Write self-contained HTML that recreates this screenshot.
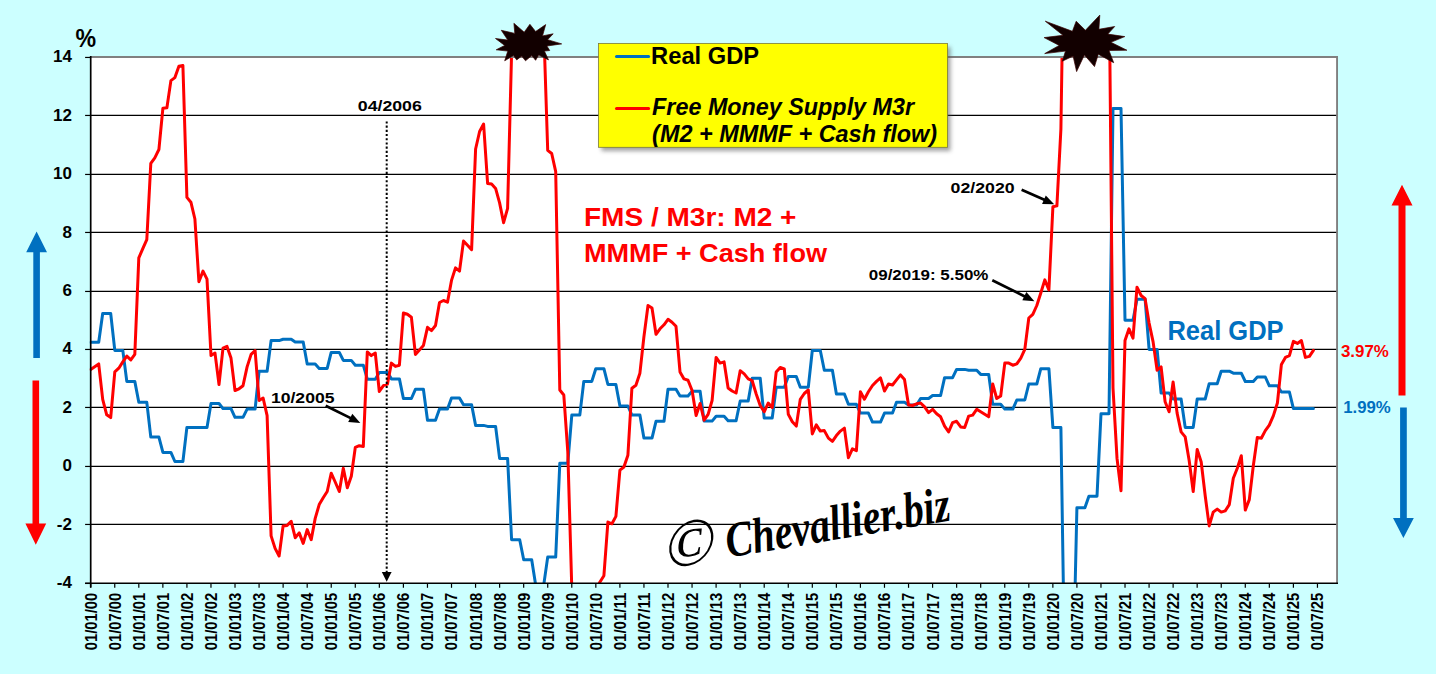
<!DOCTYPE html>
<html lang="en"><head><meta charset="utf-8"><title>Real GDP vs Free Money Supply M3r</title>
<style>html,body{margin:0;padding:0;background:#ccffff;overflow:hidden}svg{display:block}text{font-family:"Liberation Sans",sans-serif;font-weight:bold}.ax{font-size:15.7px;fill:#000}.ay{font-size:17px;fill:#000}.an{font-size:15.2px;fill:#000}</style></head><body>
<svg width="1436" height="674" viewBox="0 0 1436 674">
<defs><clipPath id="pc"><rect x="89.7" y="57.5" width="1247.3" height="525.7"/></clipPath>
<filter id="sh" x="-5%" y="-10%" width="115%" height="130%"><feGaussianBlur stdDeviation="2.2"/></filter></defs>
<rect width="1436" height="674" fill="#ccffff"/>
<rect x="90.7" y="57.5" width="1246.3" height="525.7" fill="#fff"/>
<line x1="90.7" x2="1337.0" y1="524.45" y2="524.45" stroke="#000" stroke-width="1.2"/>
<line x1="90.7" x2="1337.0" y1="466.45" y2="466.45" stroke="#000" stroke-width="1.2"/>
<line x1="90.7" x2="1337.0" y1="407.45" y2="407.45" stroke="#000" stroke-width="1.2"/>
<line x1="90.7" x2="1337.0" y1="349.45" y2="349.45" stroke="#000" stroke-width="1.2"/>
<line x1="90.7" x2="1337.0" y1="291.45" y2="291.45" stroke="#000" stroke-width="1.2"/>
<line x1="90.7" x2="1337.0" y1="232.45" y2="232.45" stroke="#000" stroke-width="1.2"/>
<line x1="90.7" x2="1337.0" y1="174.45" y2="174.45" stroke="#000" stroke-width="1.2"/>
<line x1="90.7" x2="1337.0" y1="115.45" y2="115.45" stroke="#000" stroke-width="1.2"/>
<g clip-path="url(#pc)" fill="none" stroke-linejoin="round" stroke-linecap="round">
<polyline points="90.7,342.3 98.7,342.3 102.7,313.5 110.7,313.5 114.8,350.4 122.8,350.4 126.8,381.4 134.8,381.4 138.8,402.3 146.8,402.3 150.8,437.1 158.9,437.1 162.9,452.4 170.9,452.4 174.9,461.5 182.9,461.5 186.9,427.4 207.0,427.4 211.0,403.5 219.0,403.5 223.0,408.6 231.0,408.6 235.0,417.3 243.0,417.3 247.1,409.1 255.1,409.1 259.1,371.2 267.1,371.2 271.1,340.6 279.1,340.6 283.1,339.3 291.2,339.3 295.2,342.1 303.2,342.1 307.2,363.9 315.2,363.9 319.2,368.4 327.2,368.4 331.2,352.4 339.3,352.4 343.3,360.4 351.3,360.4 355.3,365.2 363.3,365.2 367.3,379.2 375.3,379.2 379.3,372.4 387.4,372.4 391.4,378.9 399.4,378.9 403.4,398.5 411.4,398.5 415.4,389.3 423.4,389.3 427.5,420.3 435.5,420.3 439.5,409.1 447.5,409.1 451.5,398.0 459.5,398.0 463.5,404.8 471.6,404.8 475.6,425.4 483.6,425.4 487.6,426.4 495.6,426.4 499.6,458.4 507.6,458.4 511.6,539.7 519.7,539.7 523.7,559.7 531.7,559.7 535.7,585.2 543.7,585.2 547.7,557.1 555.7,557.1 559.8,463.2 567.8,463.2 571.8,415.1 579.8,415.1 583.8,381.4 591.8,381.4 595.8,368.7 603.9,368.7 607.9,384.5 615.9,384.5 619.9,406.0 627.9,406.0 631.9,415.1 639.9,415.1 643.9,438.1 652.0,438.1 656.0,421.3 664.0,421.3 668.0,389.3 676.0,389.3 680.0,396.0 688.0,396.0 692.1,391.3 700.1,391.3 704.1,421.1 712.1,421.1 716.1,416.3 724.1,416.3 728.1,420.8 736.1,420.8 740.2,401.0 748.2,401.0 752.2,378.2 760.2,378.2 764.2,418.1 772.2,418.1 776.2,387.2 784.3,387.2 788.3,376.4 796.3,376.4 800.3,387.2 808.3,387.2 812.3,350.5 820.3,350.5 824.3,370.2 832.4,370.2 836.4,394.0 844.4,394.0 848.4,404.3 856.4,404.3 860.4,413.1 868.4,413.1 872.5,422.1 880.5,422.1 884.5,413.1 892.5,413.1 896.5,402.3 904.5,402.3 908.5,405.0 916.6,405.0 920.6,398.5 928.6,398.5 932.6,395.5 940.6,395.5 944.6,377.7 952.6,377.7 956.6,369.4 964.7,369.4 968.7,370.2 976.7,370.2 980.7,374.4 988.7,374.4 992.7,404.3 1000.7,404.3 1004.8,409.1 1012.8,409.1 1016.8,400.0 1024.8,400.0 1028.8,384.0 1036.8,384.0 1040.8,368.7 1048.9,368.7 1052.9,427.6 1060.9,427.6 1064.9,685.1 1072.9,685.1 1076.9,507.8 1084.9,507.8 1088.9,496.3 1097.0,496.3 1101.0,413.8 1109.0,413.8 1113.0,108.4 1121.0,108.4 1125.0,320.3 1133.0,320.3 1137.0,299.2 1145.1,299.2 1149.1,349.4 1157.1,349.4 1161.1,393.0 1169.1,393.0 1173.1,399.0 1181.1,399.0 1185.2,427.4 1193.2,427.4 1197.2,399.0 1205.2,399.0 1209.2,383.7 1217.2,383.7 1221.2,371.2 1229.3,371.2 1233.3,373.2 1241.3,373.2 1245.3,381.5 1253.3,381.5 1257.3,377.0 1265.3,377.0 1269.3,385.8 1277.4,385.8 1281.4,392.0 1289.4,392.0 1293.4,408.6 1313.4,408.6" stroke="#0070c0" stroke-width="3"/>
<polyline points="90.7,369.4 98.7,363.9 102.7,399.3 106.7,414.8 110.7,417.6 114.8,371.9 118.8,368.2 122.8,361.9 126.8,356.1 130.8,359.9 134.8,354.4 138.8,257.9 142.8,248.6 146.8,239.6 150.8,163.3 154.8,157.8 158.9,149.5 162.9,108.2 166.9,107.7 170.9,80.6 174.9,77.6 178.9,66.3 182.9,65.5 186.9,197.4 190.9,202.2 194.9,219.0 198.9,281.7 203.0,271.1 207.0,279.2 211.0,355.6 215.0,353.1 219.0,384.5 223.0,348.1 227.0,346.4 231.0,358.1 235.0,390.5 239.0,388.8 243.0,385.7 247.1,366.9 251.1,354.4 255.1,350.6 259.1,400.5 263.1,398.0 267.1,415.6 271.1,535.9 275.1,548.4 279.1,556.0 283.1,525.9 287.1,525.4 291.2,521.4 295.2,537.7 299.2,532.9 303.2,543.4 307.2,529.6 311.2,539.7 315.2,518.4 319.2,504.6 323.2,497.8 327.2,491.5 331.2,473.2 335.2,482.0 339.3,491.5 343.3,468.2 347.3,487.8 351.3,476.2 355.3,447.4 359.3,445.7 363.3,446.4 367.3,351.9 371.3,355.6 375.3,353.1 379.3,391.5 383.4,385.7 387.4,384.2 391.4,363.1 395.4,366.4 399.4,365.2 403.4,313.0 407.4,314.3 411.4,317.3 415.4,354.4 419.4,349.9 423.4,345.6 427.5,327.3 431.5,330.6 435.5,325.5 439.5,302.5 443.5,300.5 447.5,302.2 451.5,280.4 455.5,267.9 459.5,271.1 463.5,241.1 467.5,245.3 471.6,249.6 475.6,149.0 479.6,131.5 483.6,124.0 487.6,183.4 491.6,184.1 495.6,188.4 499.6,202.9 503.6,222.7 507.6,208.4 511.6,52.5 515.7,-25.2 539.7,-25.2 543.7,26.7 547.7,150.3 551.7,153.5 555.7,171.6 559.8,390.0 563.8,395.0 567.8,451.9 571.8,588.6 595.8,591.5 599.8,582.2 603.9,575.7 607.9,522.0 611.9,523.8 615.9,516.4 619.9,470.2 623.9,467.0 627.9,455.2 631.9,388.2 635.9,385.2 639.9,373.2 643.9,336.8 648.0,305.5 652.0,308.0 656.0,334.3 660.0,328.8 664.0,324.8 668.0,319.3 672.0,322.3 676.0,326.3 680.0,371.9 684.0,378.9 688.0,380.2 692.1,390.5 696.1,415.6 700.1,403.5 704.1,420.1 708.1,414.3 712.1,400.5 716.1,357.4 720.1,363.1 724.1,361.9 728.1,388.0 732.1,391.0 736.1,393.0 740.2,370.7 744.2,373.9 748.2,378.9 752.2,380.7 756.2,394.0 760.2,405.5 764.2,411.8 768.2,403.0 772.2,407.6 776.2,371.9 780.2,367.4 784.3,368.9 788.3,414.3 792.3,421.8 796.3,426.1 800.3,399.3 804.3,393.5 808.3,390.0 812.3,433.9 816.3,424.9 820.3,431.1 824.3,430.6 828.4,438.1 832.4,441.4 836.4,435.6 840.4,431.1 844.4,428.1 848.4,457.7 852.4,448.9 856.4,450.7 860.4,391.8 864.4,399.3 868.4,391.8 872.5,385.5 876.5,381.4 880.5,377.9 884.5,391.0 888.5,384.0 892.5,385.0 896.5,379.9 900.5,374.9 904.5,379.4 908.5,405.0 912.5,405.5 916.6,403.8 920.6,403.0 924.6,406.8 928.6,412.6 932.6,409.3 936.6,413.8 940.6,416.8 944.6,426.1 948.6,431.9 952.6,422.6 956.6,421.3 960.7,426.9 964.7,427.6 968.7,416.1 972.7,415.1 976.7,409.3 980.7,411.8 984.7,414.3 988.7,416.8 992.7,384.0 996.7,398.5 1000.7,396.0 1004.8,363.1 1008.8,363.1 1012.8,365.2 1016.8,363.9 1020.8,358.1 1024.8,349.4 1028.8,318.0 1032.8,314.3 1036.8,305.5 1040.8,293.0 1044.8,279.9 1048.9,289.9 1052.9,206.7 1056.9,205.9 1060.9,129.2 1064.9,-125.5 1105.0,-125.5 1109.0,-35.2 1113.0,388.0 1117.0,458.2 1121.0,490.8 1125.0,340.6 1129.0,328.8 1133.0,338.1 1137.0,287.2 1141.1,295.5 1145.1,298.7 1149.1,323.1 1153.1,341.9 1157.1,370.2 1161.1,366.9 1165.1,401.8 1169.1,411.8 1173.1,382.0 1177.1,413.1 1181.1,431.9 1185.2,436.9 1189.2,460.7 1193.2,491.6 1197.2,449.4 1201.2,462.0 1205.2,495.8 1209.2,525.9 1213.2,512.1 1217.2,509.1 1221.2,512.1 1225.2,510.9 1229.3,504.6 1233.3,478.3 1237.3,468.2 1241.3,455.7 1245.3,510.1 1249.3,499.6 1253.3,465.7 1257.3,437.4 1261.3,438.2 1265.3,430.6 1269.3,425.1 1273.4,415.6 1277.4,403.0 1281.4,364.4 1285.4,357.4 1289.4,355.7 1293.4,341.4 1297.4,343.4 1301.4,340.6 1305.4,357.4 1309.4,356.4 1313.4,350.4" stroke="#ff0000" stroke-width="3"/>
</g>
<path d="M90.70 57.05 H1337.05 V583.2" fill="none" stroke="#808080" stroke-width="1.9"/>
<path d="M90.70 56.1 V587.6" fill="none" stroke="#000" stroke-width="1.7"/>
<path d="M85.1 583.20 H1338.0" fill="none" stroke="#000" stroke-width="1.5"/>
<line x1="85.1" x2="90.7" y1="583.45" y2="583.45" stroke="#000" stroke-width="1.2"/>
<text class="ay" x="71.9" y="588.0" text-anchor="end">-4</text>
<line x1="85.1" x2="90.7" y1="524.45" y2="524.45" stroke="#000" stroke-width="1.2"/>
<text class="ay" x="71.9" y="529.6" text-anchor="end">-2</text>
<line x1="85.1" x2="90.7" y1="466.45" y2="466.45" stroke="#000" stroke-width="1.2"/>
<text class="ay" x="71.9" y="471.2" text-anchor="end">0</text>
<line x1="85.1" x2="90.7" y1="407.45" y2="407.45" stroke="#000" stroke-width="1.2"/>
<text class="ay" x="71.9" y="412.8" text-anchor="end">2</text>
<line x1="85.1" x2="90.7" y1="349.45" y2="349.45" stroke="#000" stroke-width="1.2"/>
<text class="ay" x="71.9" y="354.4" text-anchor="end">4</text>
<line x1="85.1" x2="90.7" y1="291.45" y2="291.45" stroke="#000" stroke-width="1.2"/>
<text class="ay" x="71.9" y="295.9" text-anchor="end">6</text>
<line x1="85.1" x2="90.7" y1="232.45" y2="232.45" stroke="#000" stroke-width="1.2"/>
<text class="ay" x="71.9" y="237.5" text-anchor="end">8</text>
<line x1="85.1" x2="90.7" y1="174.45" y2="174.45" stroke="#000" stroke-width="1.2"/>
<text class="ay" x="71.9" y="179.1" text-anchor="end">10</text>
<line x1="85.1" x2="90.7" y1="115.45" y2="115.45" stroke="#000" stroke-width="1.2"/>
<text class="ay" x="71.9" y="120.7" text-anchor="end">12</text>
<line x1="85.1" x2="90.7" y1="57.45" y2="57.45" stroke="#000" stroke-width="1.2"/>
<text class="ay" x="71.9" y="62.3" text-anchor="end">14</text>
<line x1="90.70" x2="90.70" y1="583.2" y2="587.8" stroke="#000" stroke-width="1.2"/>
<text class="ax" transform="translate(96.6,650.3) rotate(-90)" textLength="57.6" lengthAdjust="spacingAndGlyphs">01/01/00</text>
<line x1="114.75" x2="114.75" y1="583.2" y2="587.8" stroke="#000" stroke-width="1.2"/>
<text class="ax" transform="translate(120.7,650.3) rotate(-90)" textLength="57.6" lengthAdjust="spacingAndGlyphs">01/07/00</text>
<line x1="138.81" x2="138.81" y1="583.2" y2="587.8" stroke="#000" stroke-width="1.2"/>
<text class="ax" transform="translate(144.7,650.3) rotate(-90)" textLength="57.6" lengthAdjust="spacingAndGlyphs">01/01/01</text>
<line x1="162.86" x2="162.86" y1="583.2" y2="587.8" stroke="#000" stroke-width="1.2"/>
<text class="ax" transform="translate(168.8,650.3) rotate(-90)" textLength="57.6" lengthAdjust="spacingAndGlyphs">01/07/01</text>
<line x1="186.92" x2="186.92" y1="583.2" y2="587.8" stroke="#000" stroke-width="1.2"/>
<text class="ax" transform="translate(192.8,650.3) rotate(-90)" textLength="57.6" lengthAdjust="spacingAndGlyphs">01/01/02</text>
<line x1="210.97" x2="210.97" y1="583.2" y2="587.8" stroke="#000" stroke-width="1.2"/>
<text class="ax" transform="translate(216.9,650.3) rotate(-90)" textLength="57.6" lengthAdjust="spacingAndGlyphs">01/07/02</text>
<line x1="235.02" x2="235.02" y1="583.2" y2="587.8" stroke="#000" stroke-width="1.2"/>
<text class="ax" transform="translate(240.9,650.3) rotate(-90)" textLength="57.6" lengthAdjust="spacingAndGlyphs">01/01/03</text>
<line x1="259.08" x2="259.08" y1="583.2" y2="587.8" stroke="#000" stroke-width="1.2"/>
<text class="ax" transform="translate(265.0,650.3) rotate(-90)" textLength="57.6" lengthAdjust="spacingAndGlyphs">01/07/03</text>
<line x1="283.13" x2="283.13" y1="583.2" y2="587.8" stroke="#000" stroke-width="1.2"/>
<text class="ax" transform="translate(289.0,650.3) rotate(-90)" textLength="57.6" lengthAdjust="spacingAndGlyphs">01/01/04</text>
<line x1="307.19" x2="307.19" y1="583.2" y2="587.8" stroke="#000" stroke-width="1.2"/>
<text class="ax" transform="translate(313.1,650.3) rotate(-90)" textLength="57.6" lengthAdjust="spacingAndGlyphs">01/07/04</text>
<line x1="331.24" x2="331.24" y1="583.2" y2="587.8" stroke="#000" stroke-width="1.2"/>
<text class="ax" transform="translate(337.1,650.3) rotate(-90)" textLength="57.6" lengthAdjust="spacingAndGlyphs">01/01/05</text>
<line x1="355.29" x2="355.29" y1="583.2" y2="587.8" stroke="#000" stroke-width="1.2"/>
<text class="ax" transform="translate(361.2,650.3) rotate(-90)" textLength="57.6" lengthAdjust="spacingAndGlyphs">01/07/05</text>
<line x1="379.35" x2="379.35" y1="583.2" y2="587.8" stroke="#000" stroke-width="1.2"/>
<text class="ax" transform="translate(385.2,650.3) rotate(-90)" textLength="57.6" lengthAdjust="spacingAndGlyphs">01/01/06</text>
<line x1="403.40" x2="403.40" y1="583.2" y2="587.8" stroke="#000" stroke-width="1.2"/>
<text class="ax" transform="translate(409.3,650.3) rotate(-90)" textLength="57.6" lengthAdjust="spacingAndGlyphs">01/07/06</text>
<line x1="427.46" x2="427.46" y1="583.2" y2="587.8" stroke="#000" stroke-width="1.2"/>
<text class="ax" transform="translate(433.4,650.3) rotate(-90)" textLength="57.6" lengthAdjust="spacingAndGlyphs">01/01/07</text>
<line x1="451.51" x2="451.51" y1="583.2" y2="587.8" stroke="#000" stroke-width="1.2"/>
<text class="ax" transform="translate(457.4,650.3) rotate(-90)" textLength="57.6" lengthAdjust="spacingAndGlyphs">01/07/07</text>
<line x1="475.56" x2="475.56" y1="583.2" y2="587.8" stroke="#000" stroke-width="1.2"/>
<text class="ax" transform="translate(481.5,650.3) rotate(-90)" textLength="57.6" lengthAdjust="spacingAndGlyphs">01/01/08</text>
<line x1="499.62" x2="499.62" y1="583.2" y2="587.8" stroke="#000" stroke-width="1.2"/>
<text class="ax" transform="translate(505.5,650.3) rotate(-90)" textLength="57.6" lengthAdjust="spacingAndGlyphs">01/07/08</text>
<line x1="523.67" x2="523.67" y1="583.2" y2="587.8" stroke="#000" stroke-width="1.2"/>
<text class="ax" transform="translate(529.6,650.3) rotate(-90)" textLength="57.6" lengthAdjust="spacingAndGlyphs">01/01/09</text>
<line x1="547.73" x2="547.73" y1="583.2" y2="587.8" stroke="#000" stroke-width="1.2"/>
<text class="ax" transform="translate(553.6,650.3) rotate(-90)" textLength="57.6" lengthAdjust="spacingAndGlyphs">01/07/09</text>
<line x1="571.78" x2="571.78" y1="583.2" y2="587.8" stroke="#000" stroke-width="1.2"/>
<text class="ax" transform="translate(577.7,650.3) rotate(-90)" textLength="57.6" lengthAdjust="spacingAndGlyphs">01/01/10</text>
<line x1="595.83" x2="595.83" y1="583.2" y2="587.8" stroke="#000" stroke-width="1.2"/>
<text class="ax" transform="translate(601.7,650.3) rotate(-90)" textLength="57.6" lengthAdjust="spacingAndGlyphs">01/07/10</text>
<line x1="619.89" x2="619.89" y1="583.2" y2="587.8" stroke="#000" stroke-width="1.2"/>
<text class="ax" transform="translate(625.8,650.3) rotate(-90)" textLength="57.6" lengthAdjust="spacingAndGlyphs">01/01/11</text>
<line x1="643.94" x2="643.94" y1="583.2" y2="587.8" stroke="#000" stroke-width="1.2"/>
<text class="ax" transform="translate(649.8,650.3) rotate(-90)" textLength="57.6" lengthAdjust="spacingAndGlyphs">01/07/11</text>
<line x1="668.00" x2="668.00" y1="583.2" y2="587.8" stroke="#000" stroke-width="1.2"/>
<text class="ax" transform="translate(673.9,650.3) rotate(-90)" textLength="57.6" lengthAdjust="spacingAndGlyphs">01/01/12</text>
<line x1="692.05" x2="692.05" y1="583.2" y2="587.8" stroke="#000" stroke-width="1.2"/>
<text class="ax" transform="translate(698.0,650.3) rotate(-90)" textLength="57.6" lengthAdjust="spacingAndGlyphs">01/07/12</text>
<line x1="716.10" x2="716.10" y1="583.2" y2="587.8" stroke="#000" stroke-width="1.2"/>
<text class="ax" transform="translate(722.0,650.3) rotate(-90)" textLength="57.6" lengthAdjust="spacingAndGlyphs">01/01/13</text>
<line x1="740.16" x2="740.16" y1="583.2" y2="587.8" stroke="#000" stroke-width="1.2"/>
<text class="ax" transform="translate(746.1,650.3) rotate(-90)" textLength="57.6" lengthAdjust="spacingAndGlyphs">01/07/13</text>
<line x1="764.21" x2="764.21" y1="583.2" y2="587.8" stroke="#000" stroke-width="1.2"/>
<text class="ax" transform="translate(770.1,650.3) rotate(-90)" textLength="57.6" lengthAdjust="spacingAndGlyphs">01/01/14</text>
<line x1="788.27" x2="788.27" y1="583.2" y2="587.8" stroke="#000" stroke-width="1.2"/>
<text class="ax" transform="translate(794.2,650.3) rotate(-90)" textLength="57.6" lengthAdjust="spacingAndGlyphs">01/07/14</text>
<line x1="812.32" x2="812.32" y1="583.2" y2="587.8" stroke="#000" stroke-width="1.2"/>
<text class="ax" transform="translate(818.2,650.3) rotate(-90)" textLength="57.6" lengthAdjust="spacingAndGlyphs">01/01/15</text>
<line x1="836.37" x2="836.37" y1="583.2" y2="587.8" stroke="#000" stroke-width="1.2"/>
<text class="ax" transform="translate(842.3,650.3) rotate(-90)" textLength="57.6" lengthAdjust="spacingAndGlyphs">01/07/15</text>
<line x1="860.43" x2="860.43" y1="583.2" y2="587.8" stroke="#000" stroke-width="1.2"/>
<text class="ax" transform="translate(866.3,650.3) rotate(-90)" textLength="57.6" lengthAdjust="spacingAndGlyphs">01/01/16</text>
<line x1="884.48" x2="884.48" y1="583.2" y2="587.8" stroke="#000" stroke-width="1.2"/>
<text class="ax" transform="translate(890.4,650.3) rotate(-90)" textLength="57.6" lengthAdjust="spacingAndGlyphs">01/07/16</text>
<line x1="908.54" x2="908.54" y1="583.2" y2="587.8" stroke="#000" stroke-width="1.2"/>
<text class="ax" transform="translate(914.4,650.3) rotate(-90)" textLength="57.6" lengthAdjust="spacingAndGlyphs">01/01/17</text>
<line x1="932.59" x2="932.59" y1="583.2" y2="587.8" stroke="#000" stroke-width="1.2"/>
<text class="ax" transform="translate(938.5,650.3) rotate(-90)" textLength="57.6" lengthAdjust="spacingAndGlyphs">01/07/17</text>
<line x1="956.64" x2="956.64" y1="583.2" y2="587.8" stroke="#000" stroke-width="1.2"/>
<text class="ax" transform="translate(962.5,650.3) rotate(-90)" textLength="57.6" lengthAdjust="spacingAndGlyphs">01/01/18</text>
<line x1="980.70" x2="980.70" y1="583.2" y2="587.8" stroke="#000" stroke-width="1.2"/>
<text class="ax" transform="translate(986.6,650.3) rotate(-90)" textLength="57.6" lengthAdjust="spacingAndGlyphs">01/07/18</text>
<line x1="1004.75" x2="1004.75" y1="583.2" y2="587.8" stroke="#000" stroke-width="1.2"/>
<text class="ax" transform="translate(1010.7,650.3) rotate(-90)" textLength="57.6" lengthAdjust="spacingAndGlyphs">01/01/19</text>
<line x1="1028.81" x2="1028.81" y1="583.2" y2="587.8" stroke="#000" stroke-width="1.2"/>
<text class="ax" transform="translate(1034.7,650.3) rotate(-90)" textLength="57.6" lengthAdjust="spacingAndGlyphs">01/07/19</text>
<line x1="1052.86" x2="1052.86" y1="583.2" y2="587.8" stroke="#000" stroke-width="1.2"/>
<text class="ax" transform="translate(1058.8,650.3) rotate(-90)" textLength="57.6" lengthAdjust="spacingAndGlyphs">01/01/20</text>
<line x1="1076.91" x2="1076.91" y1="583.2" y2="587.8" stroke="#000" stroke-width="1.2"/>
<text class="ax" transform="translate(1082.8,650.3) rotate(-90)" textLength="57.6" lengthAdjust="spacingAndGlyphs">01/07/20</text>
<line x1="1100.97" x2="1100.97" y1="583.2" y2="587.8" stroke="#000" stroke-width="1.2"/>
<text class="ax" transform="translate(1106.9,650.3) rotate(-90)" textLength="57.6" lengthAdjust="spacingAndGlyphs">01/01/21</text>
<line x1="1125.02" x2="1125.02" y1="583.2" y2="587.8" stroke="#000" stroke-width="1.2"/>
<text class="ax" transform="translate(1130.9,650.3) rotate(-90)" textLength="57.6" lengthAdjust="spacingAndGlyphs">01/07/21</text>
<line x1="1149.08" x2="1149.08" y1="583.2" y2="587.8" stroke="#000" stroke-width="1.2"/>
<text class="ax" transform="translate(1155.0,650.3) rotate(-90)" textLength="57.6" lengthAdjust="spacingAndGlyphs">01/01/22</text>
<line x1="1173.13" x2="1173.13" y1="583.2" y2="587.8" stroke="#000" stroke-width="1.2"/>
<text class="ax" transform="translate(1179.0,650.3) rotate(-90)" textLength="57.6" lengthAdjust="spacingAndGlyphs">01/07/22</text>
<line x1="1197.18" x2="1197.18" y1="583.2" y2="587.8" stroke="#000" stroke-width="1.2"/>
<text class="ax" transform="translate(1203.1,650.3) rotate(-90)" textLength="57.6" lengthAdjust="spacingAndGlyphs">01/01/23</text>
<line x1="1221.24" x2="1221.24" y1="583.2" y2="587.8" stroke="#000" stroke-width="1.2"/>
<text class="ax" transform="translate(1227.1,650.3) rotate(-90)" textLength="57.6" lengthAdjust="spacingAndGlyphs">01/07/23</text>
<line x1="1245.29" x2="1245.29" y1="583.2" y2="587.8" stroke="#000" stroke-width="1.2"/>
<text class="ax" transform="translate(1251.2,650.3) rotate(-90)" textLength="57.6" lengthAdjust="spacingAndGlyphs">01/01/24</text>
<line x1="1269.35" x2="1269.35" y1="583.2" y2="587.8" stroke="#000" stroke-width="1.2"/>
<text class="ax" transform="translate(1275.2,650.3) rotate(-90)" textLength="57.6" lengthAdjust="spacingAndGlyphs">01/07/24</text>
<line x1="1293.40" x2="1293.40" y1="583.2" y2="587.8" stroke="#000" stroke-width="1.2"/>
<text class="ax" transform="translate(1299.3,650.3) rotate(-90)" textLength="57.6" lengthAdjust="spacingAndGlyphs">01/01/25</text>
<line x1="1317.45" x2="1317.45" y1="583.2" y2="587.8" stroke="#000" stroke-width="1.2"/>
<text class="ax" transform="translate(1323.4,650.3) rotate(-90)" textLength="57.6" lengthAdjust="spacingAndGlyphs">01/07/25</text>
<text x="75.5" y="47.3" font-size="26" textLength="20.6" lengthAdjust="spacingAndGlyphs">%</text>
<rect x="601.5" y="47" width="349" height="104" fill="#555" opacity="0.55" filter="url(#sh)"/>
<rect x="598.5" y="43.5" width="349" height="103.8" fill="#ffff00" stroke="#7a7a3a" stroke-width="0.8"/>
<line x1="616.5" x2="648.6" y1="56.6" y2="56.6" stroke="#0070c0" stroke-width="3" stroke-linecap="round"/>
<line x1="616.5" x2="648.6" y1="108.5" y2="108.5" stroke="#ff0000" stroke-width="3" stroke-linecap="round"/>
<text x="651.1" y="63.7" font-size="23.2" textLength="108" lengthAdjust="spacingAndGlyphs">Real GDP</text>
<text x="652.1" y="115.3" font-size="23" font-style="italic" textLength="262" lengthAdjust="spacingAndGlyphs">Free Money Supply M3r</text>
<text x="652.1" y="141.8" font-size="23" font-style="italic" textLength="285" lengthAdjust="spacingAndGlyphs">(M2 + MMMF + Cash flow)</text>
<polygon points="495.5,38.5 507.8,40.1 501.3,30.3 514.8,33.4 513.9,23.3 524.2,32.2 529.9,24.3 535.6,31.5 545.7,24.6 542.5,35.9 553.2,33.8 547.6,39.7 561.7,43.9 546.9,46.0 549.7,50.5 544.4,51.1 548.5,59.9 538.7,54.9 535.6,60.3 531.8,55.5 525.5,60.8 521.7,56.1 516.7,59.9 513.5,55.5 504.7,60.8 507.8,51.1 496.2,49.8 504.7,45.4" fill="#120000" stroke="#3a0000" stroke-width="0.7"/>
<polygon points="1045.3,21.2 1072.4,31.3 1076.2,21.2 1085.4,30.3 1099.8,15.1 1098.9,29.3 1114.7,26.5 1107.8,34.1 1124.8,36.6 1110.9,42.3 1126.9,50.2 1109.0,50.5 1113.7,62.7 1098.3,54.2 1094.5,66.6 1084.4,54.9 1076.6,71.6 1073.1,56.1 1062.3,61.2 1065.5,51.1 1044.7,53.6 1059.2,45.4 1044.1,37.6 1063.0,35.3" fill="#120000" stroke="#3a0000" stroke-width="0.7"/>
<text x="584" y="225.9" font-size="26.1" fill="#ff0000" textLength="212.5" lengthAdjust="spacingAndGlyphs">FMS / M3r: M2 +</text>
<text x="584" y="261.9" font-size="26.1" fill="#ff0000" textLength="243" lengthAdjust="spacingAndGlyphs">MMMF + Cash flow</text>
<text x="1167.4" y="340.2" font-size="26.8" fill="#0070c0" textLength="116.2" lengthAdjust="spacingAndGlyphs">Real GDP</text>
<text x="1340.9" y="356.9" font-size="15.8" fill="#ff0000" textLength="48" lengthAdjust="spacingAndGlyphs">3.97%</text>
<text x="1343.2" y="413" font-size="15.6" fill="#0070c0" textLength="47.6" lengthAdjust="spacingAndGlyphs">1.99%</text>
<text class="an" x="357.8" y="110.9" textLength="64" lengthAdjust="spacingAndGlyphs">04/2006</text>
<text class="an" x="270.9" y="402.8" textLength="63.6" lengthAdjust="spacingAndGlyphs">10/2005</text>
<text class="an" x="950.6" y="192.9" textLength="64" lengthAdjust="spacingAndGlyphs">02/2020</text>
<text class="an" x="868.8" y="279.9" textLength="119.6" lengthAdjust="spacingAndGlyphs">09/2019: 5.50%</text>
<line x1="325.7" y1="405.8" x2="351.2" y2="418.4" stroke="#000" stroke-width="2.7"/><polygon points="360.3,422.9 348.2,422.1 352.3,413.8" fill="#000"/>
<line x1="1021.6" y1="189.8" x2="1044.9" y2="200.1" stroke="#000" stroke-width="2.7"/><polygon points="1054.2,204.2 1042.1,203.9 1045.8,195.5" fill="#000"/>
<line x1="992.3" y1="280.3" x2="1025.3" y2="296.7" stroke="#000" stroke-width="2.7"/><polygon points="1034.4,301.2 1022.3,300.3 1026.4,292.1" fill="#000"/>
<line x1="386.7" x2="386.7" y1="121.4" y2="572" stroke="#000" stroke-width="2" stroke-dasharray="2.1 2.1"/>
<polygon points="386.7,581.7 381.8,572 391.6,572" fill="#000"/>
<polygon points="36.6,231.6 47.0,252.3 39.9,252.3 39.9,358.1 33.3,358.1 33.3,252.3 26.2,252.3" fill="#0070c0"/>
<polygon points="35.8,544.8 46.2,523.4 39.1,523.4 39.1,380.4 32.5,380.4 32.5,523.4 25.4,523.4" fill="#ff0000"/>
<polygon points="1402.0,184.7 1412.5,205.4 1405.5,205.4 1405.5,395.4 1398.5,395.4 1398.5,205.4 1391.5,205.4" fill="#ff0000"/>
<polygon points="1403.4,538.0 1413.8,517.9 1406.8,517.9 1406.8,407.5 1400.1,407.5 1400.1,517.9 1393.0,517.9" fill="#0070c0"/>
<g transform="translate(669,566.5) rotate(-9.5)"><text x="0" y="0" transform="translate(-6.5,2) skewX(-16)" font-size="66" style="font-family:'Liberation Serif','DejaVu Serif',serif;font-style:italic;font-weight:normal">©</text><text x="60" y="1" font-size="50" textLength="227" lengthAdjust="spacingAndGlyphs" style="font-family:'Liberation Serif','DejaVu Serif',serif;font-style:italic;font-weight:bold">Chevallier.biz</text></g>
</svg></body></html>
